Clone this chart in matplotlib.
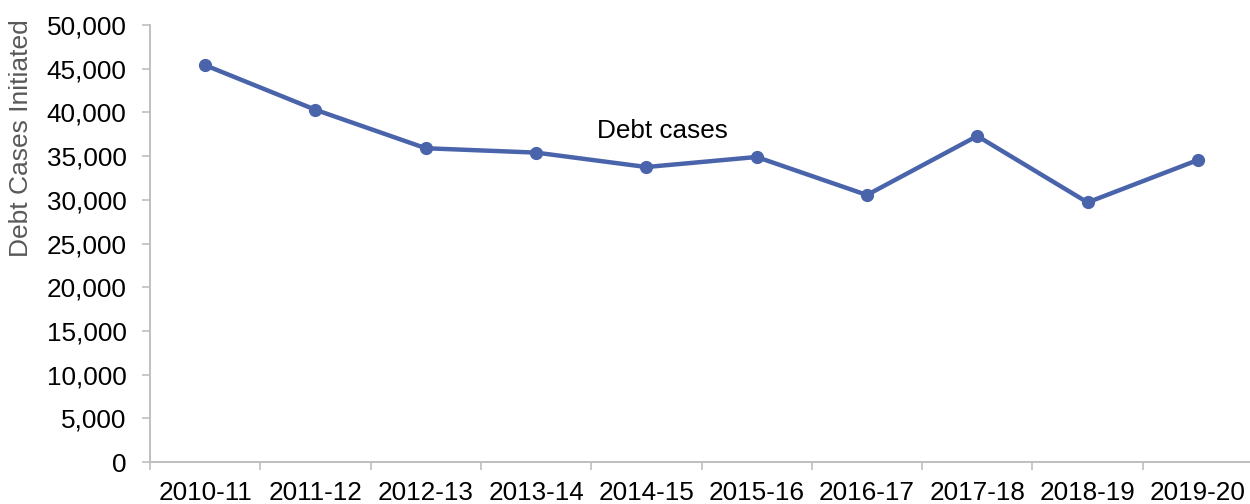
import matplotlib
matplotlib.use("Agg")
import matplotlib.pyplot as plt
from matplotlib.ticker import FuncFormatter, MultipleLocator, FixedLocator
import numpy as np

plt.rcParams['font.family'] = ['Liberation Sans', 'DejaVu Sans']

years = ["2010-11", "2011-12", "2012-13", "2013-14", "2014-15",
         "2015-16", "2016-17", "2017-18", "2018-19", "2019-20"]
debt_cases = [45400, 40300, 35900, 35400, 33750, 34900, 30550, 37300, 29700, 34550]
series_label = "Debt cases"
y_label = "Debt Cases Initiated"

line_color = "#4A64AC"
axis_color = "#BFBFBF"

fig = plt.figure(figsize=(12.5, 5.04), dpi=100)
ax = fig.add_axes([0.12, 0.0833, 0.8824, 0.8671])

x = np.arange(len(years))
ax.plot(x, debt_cases, color=line_color, lw=3.2, marker="o", markersize=8.5,
        solid_capstyle="round", zorder=3)

ax.set_xlim(-0.5, len(years) - 0.5)
ax.set_ylim(0, 50000)

ax.yaxis.set_major_locator(MultipleLocator(5000))
ax.yaxis.set_major_formatter(FuncFormatter(lambda v, p: f"{int(v):,}"))

# category boundaries carry the tick marks, centres carry the labels
ax.xaxis.set_major_locator(FixedLocator(np.arange(-0.5, len(years), 1.0)))
ax.xaxis.set_major_formatter(FuncFormatter(lambda v, p: ""))
ax.xaxis.set_minor_locator(FixedLocator(x))
ax.set_xticklabels(years, minor=True)

ax.tick_params(axis="x", which="major", length=6, width=1.2, color=axis_color, direction="out")
ax.tick_params(axis="x", which="minor", length=0, pad=14, labelsize=18.8, labelcolor="black")
ax.tick_params(axis="y", which="major", length=6, width=1.2, color=axis_color,
               pad=11, labelsize=18.8, labelcolor="black")

for side in ("top", "right"):
    ax.spines[side].set_visible(False)
for side in ("left", "bottom"):
    ax.spines[side].set_color(axis_color)
    ax.spines[side].set_linewidth(1.4)

ax.set_ylabel(y_label, fontsize=19, color="#595959")
ax.yaxis.set_label_coords(-0.106, 0.74)

ax.text(4.15, 37900, series_label, fontsize=18.8, color="black",
        ha="center", va="center")

fig.savefig("out.png", dpi=100)
